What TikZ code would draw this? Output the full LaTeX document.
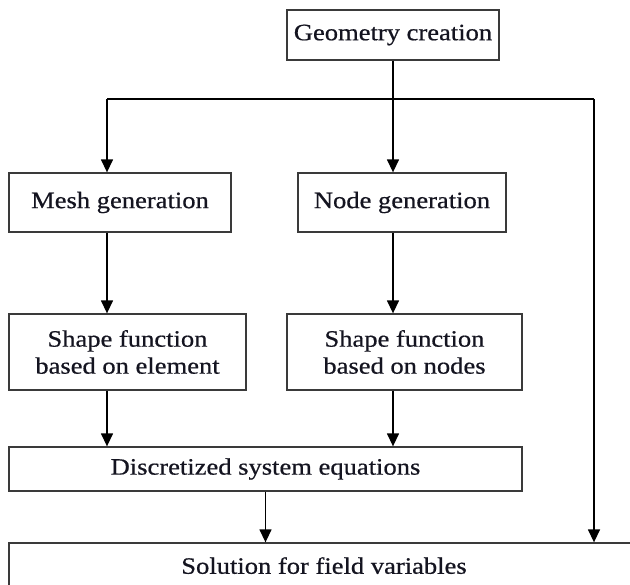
\documentclass[tikz,border=0pt]{standalone}
\usepackage{fontspec}
\setmainfont{Liberation Serif}[FakeStretch=1.13, FakeBold=0.6]
\usetikzlibrary{arrows.meta}
\definecolor{edge}{HTML}{3A3A3A}
\definecolor{ink}{HTML}{141420}
\begin{document}
\begin{tikzpicture}[x=1pt,y=-1pt,
  box/.style={draw=edge, line width=1.3pt, fill=white, rectangle, inner sep=0pt,
    align=center, text=ink, font=\fontsize{23.5}{27}\selectfont},
  arr/.style={line width=1.4pt, -{Triangle[length=13pt,width=12pt]}},
  wire/.style={line width=1.4pt}]
\useasboundingbox (0,0) rectangle (630,585);
\fill[white] (0,0) rectangle (630,585);
\clip (0,0) rectangle (630,585);

% process boxes
\node[box, minimum width=212pt, minimum height=50pt] (geo) at (393,35) {Geometry creation};
\node[box, minimum width=222pt, minimum height=59pt] (mesh) at (120,202.5) {Mesh generation};
\node[box, minimum width=208pt, minimum height=59pt] (nodegen) at (402,202.5) {Node generation};
\node[box, minimum width=237pt, minimum height=76pt] (shapeel) at (127.5,352) {Shape function\\based on element};
\node[box, minimum width=235pt, minimum height=76pt] (shapend) at (404.5,352) {Shape function\\based on nodes};
\node[box, minimum width=513pt, minimum height=44pt] (disc) at (265.5,469) {Discretized system equations};
\node[box, minimum width=630pt, minimum height=48pt] (sol) at (324,567) {\raisebox{3pt}{Solution for field variables}};

% branch points of the distribution line
\coordinate (lt) at (107,99);
\coordinate (rt) at (594,99);

% connectors
\draw[wire] (lt) -- (rt);
\draw[arr] (geo.south) -- (geo.south |- nodegen.north);
\draw[arr] (lt) -- (lt |- mesh.north);
\draw[arr] (rt) -- (rt |- sol.north);
\draw[arr] (lt |- mesh.south) -- (lt |- shapeel.north);
\draw[arr] (geo.south |- nodegen.south) -- (geo.south |- shapend.north);
\draw[arr] (lt |- shapeel.south) -- (lt |- disc.north);
\draw[arr] (geo.south |- shapend.south) -- (geo.south |- disc.north);
\draw[arr] (disc.south) -- (disc.south |- sol.north);
\end{tikzpicture}
\end{document}
